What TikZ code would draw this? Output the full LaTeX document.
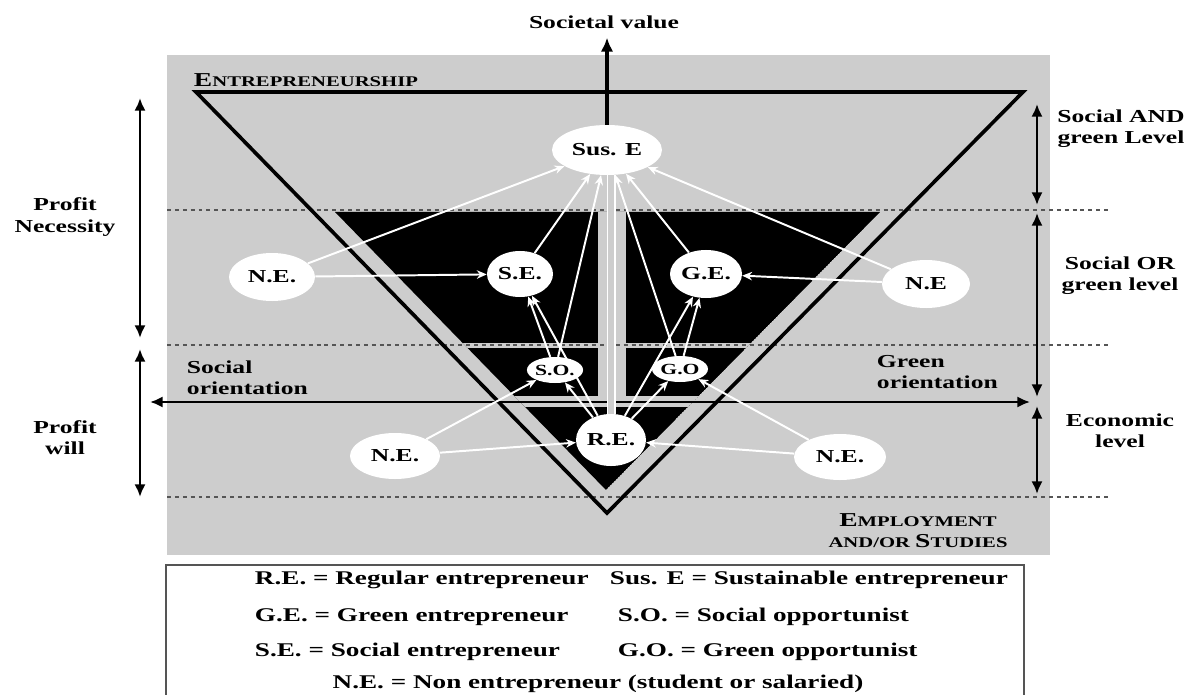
\documentclass[tikz,border=0pt]{standalone}
\usepackage{fontspec}
\setmainfont{Liberation Serif}[FakeStretch=1.4]
\usepackage{tikz}
\usetikzlibrary{shapes.geometric,arrows.meta}
\definecolor{bgray}{RGB}{205,205,205}
\definecolor{dgray}{RGB}{85,85,85}
% fake small capitals
\newcommand{\fsc}[2]{{\fontsize{14}{15}\selectfont #1}{\fontsize{10.5}{12}\selectfont #2}}

\begin{document}
\begin{tikzpicture}[x=0.025cm,y=-0.025cm,
    font=\fontsize{13}{15}\selectfont\bfseries,
    ent/.style={ellipse,fill=white,inner sep=0pt},
    wline/.style={white,line width=1.4pt,-{Stealth[length=7pt,width=6pt]}},
    barrow/.style={line width=2.1pt,{Latex[length=9pt,width=8pt]}-{Latex[length=9pt,width=8pt]}},
    level/.style={dgray,line width=0.8pt,dash pattern=on 2.8pt off 2.8pt},
    legend/.style={anchor=west,font=\fontsize{13.8}{16}\selectfont\bfseries}]
  \useasboundingbox (0,0) rectangle (1201,695);
  \fill[bgray] (167,55) rectangle (1050,555);
  % inner black areas
  \begin{scope}
    \clip (335,212) -- (880,212) -- (606,490) -- cycle;
    \fill[black] (335,212) -- (880,212) -- (606,490) -- cycle;
    \fill[bgray] (300,343) rectangle (900,348);
    \fill[bgray] (300,396) rectangle (900,407);
    \fill[bgray] (598,212) rectangle (626,396);
  \end{scope}
  % levels
  \foreach \yy in {210,345,497}
    {\draw[level] (167,\yy) -- (1110,\yy);}
  \draw[line width=2.6pt,line join=miter] (196,92) -- (1023,92) -- (607,513) -- cycle;

  % texts
  \node (societal) at (604,22) {Societal value};
  \node[anchor=west] (entre) at (189,80) {\fsc{E}{NTREPRENEURSHIP}};
  \node[align=center] (pnec) at (65,217) {Profit\\Necessity};
  \node[align=center] (pwill) at (65,438) {Profit\\will};
  \node[align=center] (sandg) at (1121,129) {Social AND\\green Level};
  \node[align=center] (sorg) at (1120,276) {Social OR\\green level};
  \node[align=center] (econ) at (1120,431) {Economic\\level};
  \node[align=left,anchor=west] (sorient) at (182,378) {Social\\orientation};
  \node[align=left,anchor=west] (gorient) at (872,372) {Green\\orientation};
  \node[align=center] (employ) at (918,531) {\fsc{E}{MPLOYMENT}\\\fsc{}{AND/OR }\fsc{S}{TUDIES}};

  % axes
  \coordinate (hl) at (150,402);
  \coordinate (hr) at (1030,402);
  \draw[barrow,line width=1.7pt] (hl) -- (hr);
  \draw[barrow] (140,98) -- (140,338);
  \draw[barrow] (140,349) -- (140,497);
  \draw[barrow] (1037,104) -- (1037,205);
  \draw[barrow] (1037,213) -- (1037,397);
  \draw[barrow] (1037,406) -- (1037,494);

  % entrepreneurs
  \node[ent,minimum width=2.75cm,minimum height=1.25cm] (susE) at (607,150) {Sus. E};
  \node[ent,minimum width=2.15cm,minimum height=1.2cm] (neUL) at (272,277) {N.E.};
  \node[ent,minimum width=1.65cm,minimum height=1.15cm] (seN) at (520,274) {S.E.};
  \node[ent,minimum width=1.8cm,minimum height=1.2cm] (geN) at (706,274) {G.E.};
  \node[ent,minimum width=2.2cm,minimum height=1.2cm] (neUR) at (926,284) {N.E};
  \node[ent,minimum width=1.4cm,minimum height=0.65cm,font=\fontsize{11}{13}\selectfont\bfseries] (soN) at (555,370) {S.O.};
  \node[ent,minimum width=1.4cm,minimum height=0.65cm,font=\fontsize{11}{13}\selectfont\bfseries] (goN) at (680,369) {G.O};
  \node[ent,minimum width=1.75cm,minimum height=1.3cm] (reN) at (611,440) {R.E.};
  \node[ent,minimum width=2.25cm,minimum height=1.15cm] (neLL) at (395,456) {N.E.};
  \node[ent,minimum width=2.3cm,minimum height=1.15cm] (neLR) at (840,457) {N.E.};

  \draw[line width=2.6pt,-{Latex[length=10pt,width=9pt]},shorten >=3pt] (susE.north) -- (societal.south -| susE.north);
  \draw[white,line width=1.2pt,double=bgray,double distance=4pt] (reN.north) -- (reN.north |- susE.south);

  % transitions
  \draw[wline] (neUL) -- (susE);
  \draw[wline] (neUL) -- (seN);
  \draw[wline] (neUR) -- (susE);
  \draw[wline] (neUR) -- (geN);
  \draw[wline] (seN) -- (susE);
  \draw[wline] (geN) -- (susE);
  \draw[wline] (soN) -- (susE);
  \draw[wline] (goN) -- (susE);
  \draw[wline] (soN) -- (seN);
  \draw[wline] (goN) -- (geN);
  \draw[wline] (reN) -- (seN);
  \draw[wline] (reN) -- (geN);
  \draw[wline] (reN) -- (soN);
  \draw[wline] (reN) -- (goN);
  \draw[wline] (neLL) -- (soN);
  \draw[wline] (neLL) -- (reN);
  \draw[wline] (neLR) -- (goN);
  \draw[wline] (neLR) -- (reN);

  % legend
  \draw[dgray,line width=1pt] (166,700) -- (166,565) -- (1024,565) -- (1024,700);
  \node[legend] (lgRE) at (250,580) {R.E. = Regular entrepreneur};
  \node[legend] (lgSus) at (605,580) {Sus. E = Sustainable entrepreneur};
  \node[legend] (lgGE) at (250,617) {G.E. = Green entrepreneur};
  \node[legend] (lgSO) at (613,617) {S.O. = Social opportunist};
  \node[legend] (lgSE) at (250,652) {S.E. = Social entrepreneur};
  \node[legend] (lgGO) at (613,652) {G.O. = Green opportunist};
  \node[legend,anchor=center] (lgNE) at (598,684) {N.E. = Non entrepreneur (student or salaried)};
\end{tikzpicture}
\end{document}
